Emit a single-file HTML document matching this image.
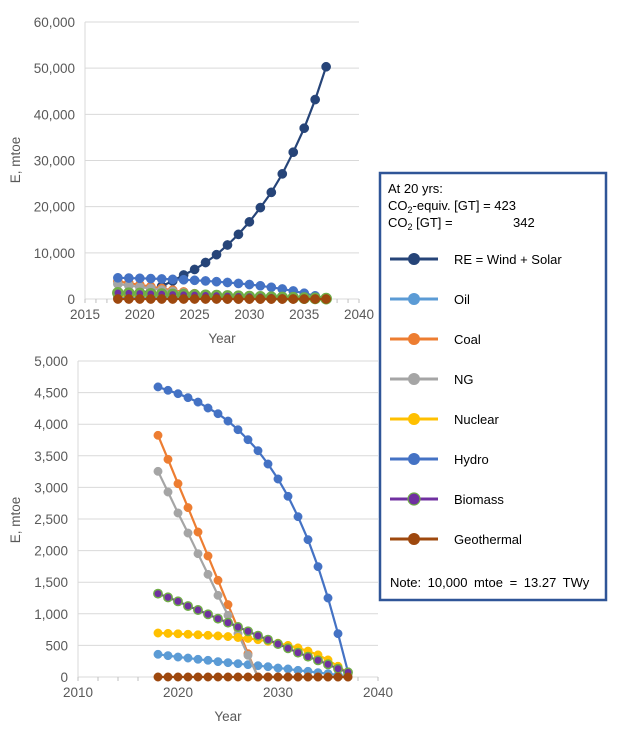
<!DOCTYPE html>
<html><head><meta charset="utf-8"><style>
html,body{margin:0;padding:0;background:#fff;}
svg{display:block;font-family:"Liberation Sans",Arial,sans-serif;}
</style></head><body>
<svg id="c" width="620" height="732" viewBox="0 0 620 732" xmlns="http://www.w3.org/2000/svg"></svg>
<script>
const years=[2018,2019,2020,2021,2022,2023,2024,2025,2026,2027,2028,2029,2030,2031,2032,2033,2034,2035,2036,2037];
const reVals=[500,800,1200,1900,2800,3900,5200,6400,7900,9600,11700,14000,16700,19800,23100,27100,31800,37000,43200,50300];
const oilVals=[359,338,316,300,280,264,243,227,211,195,179,163,142,127,105,90,69,53,32,10];
const coalVals=[3824,3444,3059,2680,2294,1915,1530,1145,765,369,0,0,0,0,0,0,0,0,0,0];
const ngVals=[3254,2927,2595,2278,1951,1624,1292,976,686,343,0,0,0,0,0,0,0,0,0,0];
const nuclearVals=[696,690,684,676,668,660,650,640,625,610,590,565,535,500,460,410,350,270,170,60];
const hydroVals=[4590,4536,4483,4420,4350,4256,4166,4050,3913,3755,3581,3370,3133,2859,2537,2173,1746,1250,686,80];
const biomassVals=[1319,1260,1197,1123,1060,992,923,860,791,723,654,591,522,454,385,322,264,200,132,74];
const geoVals=[0,0,0,0,0,0,0,0,0,0,0,0,0,0,0,0,0,0,0,0];
const topYTicks=[0,10000,20000,30000,40000,50000,60000];
const topXTicks=[2015,2020,2025,2030,2035,2040];
const botYTicks=[0,500,1000,1500,2000,2500,3000,3500,4000,4500,5000];
const botXTicks=[2010,2020,2030,2040];

const series=[
 {name:'re',label:'RE = Wind + Solar',vals:reVals,color:'#264478',stroke:'#264478'},
 {name:'oil',label:'Oil',vals:oilVals,color:'#5b9bd5',stroke:'#5b9bd5'},
 {name:'coal',label:'Coal',vals:coalVals,color:'#ed7d31',stroke:'#ed7d31'},
 {name:'ng',label:'NG',vals:ngVals,color:'#a5a5a5',stroke:'#a5a5a5'},
 {name:'nuclear',label:'Nuclear',vals:nuclearVals,color:'#ffc000',stroke:'#ffc000'},
 {name:'hydro',label:'Hydro',vals:hydroVals,color:'#4472c4',stroke:'#4472c4'},
 {name:'biomass',label:'Biomass',vals:biomassVals,color:'#7030a0',stroke:'#70ad47'},
 {name:'geothermal',label:'Geothermal',vals:geoVals,color:'#9e480e',stroke:'#9e480e'}
];
const NS='http://www.w3.org/2000/svg';
const svg=document.getElementById('c');
function mk(tag,attrs,parent,text){const e=document.createElementNS(NS,tag);for(const k in attrs)e.setAttribute(k,attrs[k]);if(text!==undefined)e.textContent=text;(parent||svg).appendChild(e);return e;}
function fmt(v){return v.toLocaleString('en-US');}

function chart(cfg){
 const g=mk('g',{});
 
 
 const xS=v=>cfg.x0+(v-cfg.xmin)/(cfg.xmax-cfg.xmin)*(cfg.x1-cfg.x0);
 const yS=v=>cfg.y0-(v-cfg.ymin)/(cfg.ymax-cfg.ymin)*(cfg.y0-cfg.y1);
 cfg.yTicks.forEach(t=>{
  if(t>cfg.ymin){const l=mk('line',{x1:cfg.x0,x2:cfg.x1,y1:yS(t),y2:yS(t),stroke:'#d9d9d9','stroke-width':1},g);
  }
  const tx=mk('text',{x:cfg.x0-10,y:yS(t)+5,'text-anchor':'end','font-size':13.5,fill:'#595959'},g,fmt(t));
  
 });
 const ax=mk('line',{x1:cfg.x0,x2:cfg.x1,y1:cfg.y0,y2:cfg.y0,stroke:'#d9d9d9','stroke-width':1},g);
 
 const ay=mk('line',{x1:cfg.x0,x2:cfg.x0,y1:cfg.y0,y2:cfg.y1,stroke:'#d9d9d9','stroke-width':1},g);
 
 for(let v=cfg.xmin;v<=cfg.xmax;v+=cfg.minor){mk('line',{x1:xS(v),x2:xS(v),y1:cfg.y0,y2:cfg.y0+4,stroke:'#bfbfbf'},g);}
 cfg.xTicks.forEach(t=>{const tx=mk('text',{x:xS(t),y:cfg.y0+20,'text-anchor':'middle','font-size':13.5,fill:'#595959'},g,t);
  });
 const xt=mk('text',{x:cfg.xTitleX,y:cfg.xTitleY,'text-anchor':'middle','font-size':13.5,fill:'#595959'},g,'Year');
 
 const yt=mk('text',{x:0,y:0,'text-anchor':'middle','font-size':13.5,fill:'#595959',transform:`translate(${cfg.yTitleX},${cfg.yTitleY}) rotate(-90)`},g,'E, mtoe');
 
 series.filter(s=>cfg.include.indexOf(s.name)>=0).forEach(s=>{
  const sg=mk('g',{},g);
  
  
  const pts=years.map((y,i)=>xS(y).toFixed(1)+','+yS(s.vals[i]).toFixed(1)).join(' ');
  mk('polyline',{points:pts,fill:'none',stroke:s.color,'stroke-width':2.2},sg);
  years.forEach((y,i)=>{
   const c=mk('circle',{cx:xS(y),cy:yS(s.vals[i]),r:cfg.r,fill:s.color,stroke:s.stroke,'stroke-width':s.name==='biomass'?(cfg.r>4.3?2.5:1.5):0.5},sg);
   
   
  });
 });
}
chart({id:'top-chart',include:['re','oil','coal','ng','nuclear','hydro','biomass','geothermal'],x0:85,x1:359,y0:299,y1:22,xmin:2015,xmax:2040,ymin:0,ymax:60000,yTicks:topYTicks,xTicks:topXTicks,minor:1,r:4.6,xTitleX:222,xTitleY:343,yTitleX:20,yTitleY:160});
chart({id:'bottom-chart',include:['oil','coal','ng','nuclear','hydro','biomass','geothermal'],x0:78,x1:378,y0:677,y1:361,xmin:2010,xmax:2040,ymin:0,ymax:5000,yTicks:botYTicks,xTicks:botXTicks,minor:2,r:4.2,xTitleX:228,xTitleY:721,yTitleX:20,yTitleY:520});

// legend
const lg=mk('g',{});


mk('rect',{x:380,y:173,width:226,height:427,fill:'#fff',stroke:'#2f5597','stroke-width':2.5},lg);
const h1=mk('text',{x:388,y:193,'font-size':13,fill:'#000'},lg,'At 20 yrs:');

const h2=mk('text',{x:388,y:210,'font-size':13,fill:'#000'},lg);

h2.innerHTML='CO<tspan font-size="9" dy="3">2</tspan><tspan dy="-3">-equiv.  [GT]  = 423</tspan>';
const h3=mk('text',{x:388,y:227,'font-size':13,fill:'#000'},lg);

h3.innerHTML='CO<tspan font-size="9" dy="3">2</tspan><tspan dy="-3"> [GT] =</tspan><tspan x="513">342</tspan>';
series.forEach((s,i)=>{
 const cy=259+i*40;
 const e=mk('g',{},lg);
 
 
 mk('line',{x1:390,x2:438,y1:cy,y2:cy,stroke:s.color,'stroke-width':3},e);
 mk('circle',{cx:414,cy:cy,r:6,fill:s.color,stroke:s.stroke,'stroke-width':s.name==='biomass'?1.2:0},e);
 mk('text',{x:454,y:cy+5,'font-size':13,fill:'#000'},e,s.label);
});
const nt=mk('text',{x:390,y:587,'font-size':13,fill:'#000','word-spacing':'3'},lg,'Note: 10,000 mtoe = 13.27 TWy');

</script>
</body></html>
